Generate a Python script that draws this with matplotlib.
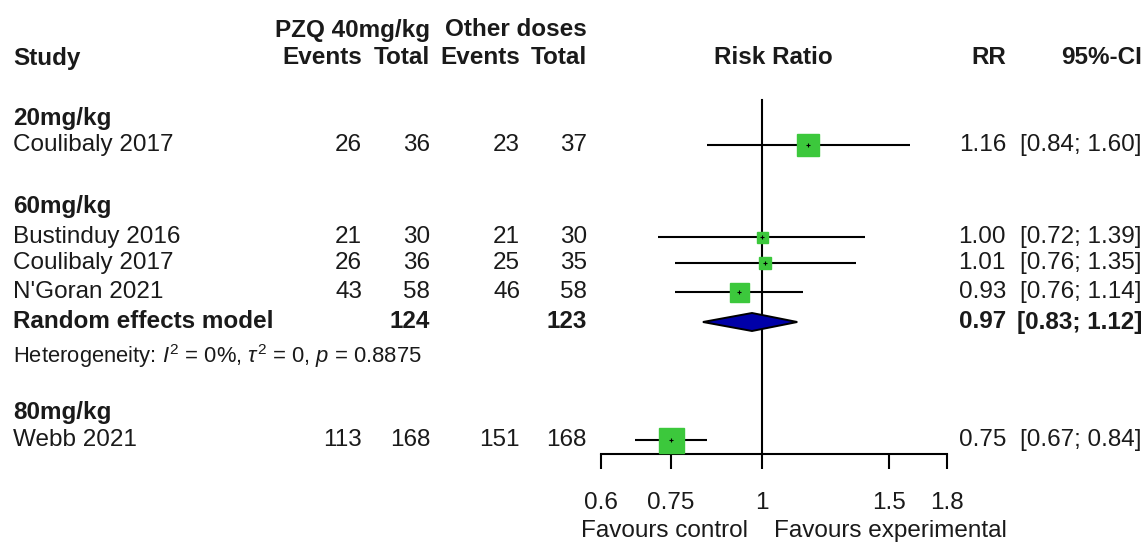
import numpy as np
import matplotlib
matplotlib.use('Agg')
import matplotlib.pyplot as plt
from matplotlib import transforms

plt.rcParams['font.family'] = ['Liberation Sans', 'DejaVu Sans']
plt.rcParams['mathtext.fontset'] = 'custom'
plt.rcParams['mathtext.rm'] = 'Liberation Sans'
plt.rcParams['mathtext.it'] = 'Liberation Sans:italic'

# data
groups = ['20mg/kg', '60mg/kg', '80mg/kg']
studies = ['Coulibaly 2017', 'Bustinduy 2016', 'Coulibaly 2017', "N'Goran 2021", 'Webb 2021']
ev_e = [26, 21, 26, 43, 113]
n_e = [36, 30, 36, 58, 168]
ev_c = [23, 21, 25, 46, 151]
n_c = [37, 30, 35, 58, 168]
rr = [1.16, 1.00, 1.01, 0.93, 0.75]
ci_lo = [0.84, 0.72, 0.76, 0.76, 0.67]
ci_hi = [1.60, 1.39, 1.35, 1.14, 0.84]
pooled = [0.97, 0.83, 1.12]
pooled_n = [124, 123]
het_text = r'Heterogeneity: $I^2$ = 0%, $\tau^2$ = 0, $p$ = 0.8875'
xticks = [0.6, 0.75, 1, 1.5, 1.8]
xticklabels = ['0.6', '0.75', '1', '1.5', '1.8']

# layout (pixel-like rows, top = 0)
W, H = 1147, 542
group_y = [118, 207, 412]
study_y = [145, 237, 263, 292, 440]
pool_y = 322
het_y = 356
box_px = [23, 11, 12, 19, 25]
col_x = [362, 430, 520, 587]
rr_x, ci_x = 1006, 1142
fs = 17.5
txt = '#1a1a1a'
green = '#3cc83c'

fig = plt.figure(figsize=(W / 100, H / 100), dpi=100)
at = fig.add_axes([0, 0, 1, 1])
at.set_xlim(0, W)
at.set_ylim(H, 0)
at.axis('off')

ap = fig.add_axes([600.7 / W, 0, 346 / W, 1])
ap.set_xscale('log')
ap.set_xlim(0.6, 1.8)
ap.set_ylim(H, 0)
ap.patch.set_alpha(0)

# headers
at.text(col_x[1], 30, 'PZQ 40mg/kg', ha='right', va='center', fontsize=fs, fontweight='bold', color=txt)
at.text(col_x[3], 30, 'Other doses', ha='right', va='center', fontsize=fs, fontweight='bold', color=txt)
at.text(13, 58, 'Study', ha='left', va='center', fontsize=fs, fontweight='bold', color=txt)
for x, lab in zip(col_x, ['Events', 'Total', 'Events', 'Total']):
    at.text(x, 58, lab, ha='right', va='center', fontsize=fs, fontweight='bold', color=txt)
ap.text(0.5, 58, 'Risk Ratio', ha='center', va='center', fontsize=fs, fontweight='bold', color=txt,
        transform=transforms.blended_transform_factory(ap.transAxes, ap.transData))
at.text(rr_x, 58, 'RR', ha='right', va='center', fontsize=fs, fontweight='bold', color=txt)
at.text(ci_x, 58, '95%-CI', ha='right', va='center', fontsize=fs, fontweight='bold', color=txt)

for g, y in zip(groups, group_y):
    at.text(13, y, g, ha='left', va='center', fontsize=fs, fontweight='bold', color=txt)

for i, y in enumerate(study_y):
    at.text(13, y, studies[i], ha='left', va='center', fontsize=fs, color=txt)
    for x, v in zip(col_x, [ev_e[i], n_e[i], ev_c[i], n_c[i]]):
        at.text(x, y, str(v), ha='right', va='center', fontsize=fs, color=txt)
    at.text(rr_x, y, f'{rr[i]:.2f}', ha='right', va='center', fontsize=fs, color=txt)
    at.text(ci_x, y, f'[{ci_lo[i]:.2f}; {ci_hi[i]:.2f}]', ha='right', va='center', fontsize=fs, color=txt)
    ap.plot([ci_lo[i], ci_hi[i]], [y, y], color='black', lw=1.5, zorder=2, solid_capstyle='butt')
    ap.plot(rr[i], y, marker='s', ms=box_px[i] * 0.72, color=green, mec=green, zorder=3)
    ap.plot(rr[i], y, marker='+', ms=3, color='black', mew=0.8, zorder=4)

# pooled estimate
at.text(13, pool_y, 'Random effects model', ha='left', va='center', fontsize=fs, fontweight='bold', color=txt)
at.text(col_x[1], pool_y, str(pooled_n[0]), ha='right', va='center', fontsize=fs, fontweight='bold', color=txt)
at.text(col_x[3], pool_y, str(pooled_n[1]), ha='right', va='center', fontsize=fs, fontweight='bold', color=txt)
at.text(rr_x, pool_y, f'{pooled[0]:.2f}', ha='right', va='center', fontsize=fs, fontweight='bold', color=txt)
at.text(ci_x, pool_y, f'[{pooled[1]:.2f}; {pooled[2]:.2f}]', ha='right', va='center', fontsize=fs,
        fontweight='bold', color=txt)
ap.fill([pooled[1], pooled[0], pooled[2], pooled[0]], [pool_y, pool_y - 9, pool_y, pool_y + 9],
        facecolor='#0000a8', edgecolor='black', lw=1.4, zorder=3)
at.text(13, het_y, het_text, ha='left', va='center', fontsize=15.8, color=txt)

# reference line and axis
ap.plot([1, 1], [100, 454], color='black', lw=1.5, zorder=1)
for s in ['top', 'left', 'right']:
    ap.spines[s].set_visible(False)
ap.spines['bottom'].set_position(('data', 454))
ap.spines['bottom'].set_linewidth(1.5)
ap.set_yticks([])
ap.set_xticks(xticks)
ap.set_xticklabels(xticklabels)
ap.xaxis.set_minor_locator(matplotlib.ticker.NullLocator())
ap.tick_params(axis='x', direction='out', length=10.5, width=1.5, pad=17, labelsize=fs, labelcolor=txt)

ap.annotate('Favours control', (1, 531), xytext=(-10, 0), textcoords='offset points',
            ha='right', va='center', fontsize=fs, color=txt, annotation_clip=False)
ap.annotate('Favours experimental', (1, 531), xytext=(9, 0), textcoords='offset points',
            ha='left', va='center', fontsize=fs, color=txt, annotation_clip=False)

fig.savefig('out.png', dpi=100)
